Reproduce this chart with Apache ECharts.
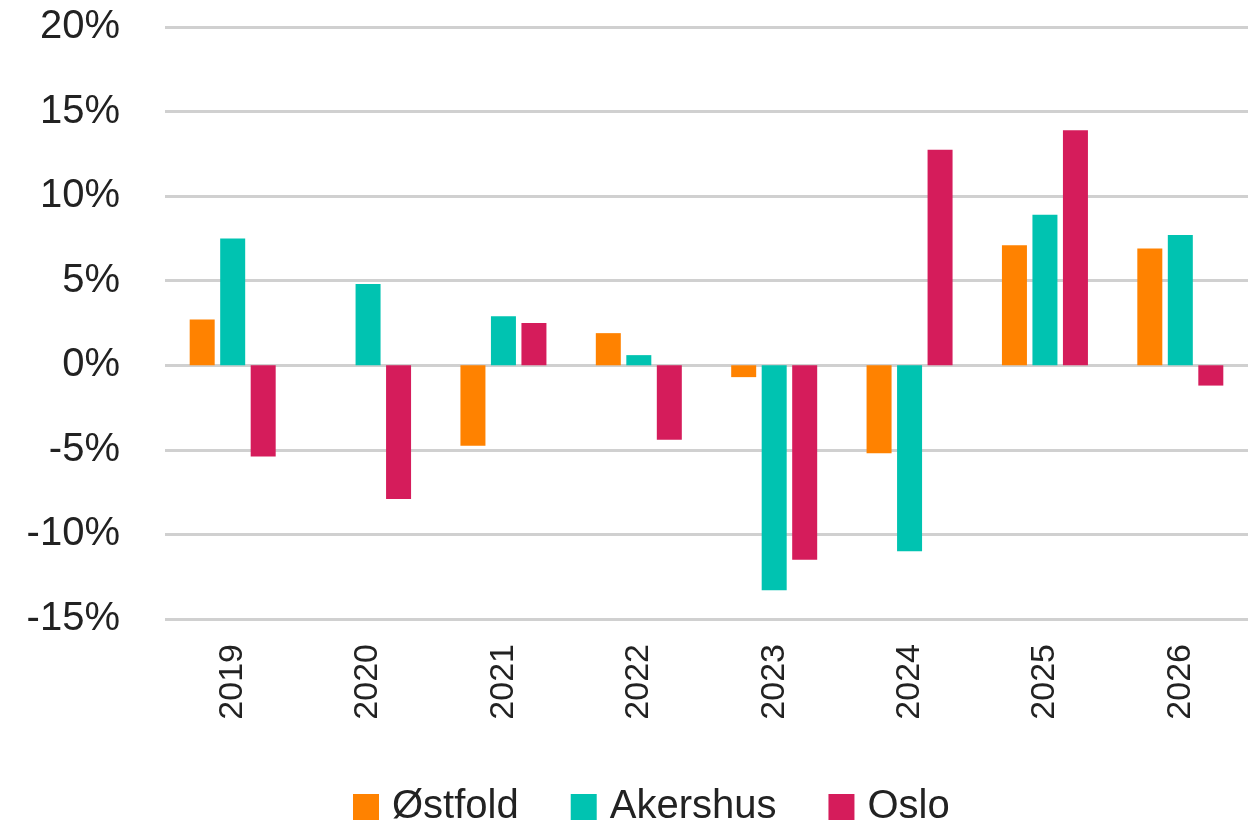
<!DOCTYPE html>
<html>
<head>
<meta charset="utf-8">
<script src="https://cdn.jsdelivr.net/npm/echarts@6/dist/echarts.min.js"></script>
<style>
    html, body { margin: 0; padding: 0; background: #fff; }
    #chart { width: 1258px; height: 826px; }
</style>
</head>
<body>
<div id="chart"></div>
<script>
// årlig endring, prosent
var years = ['2019', '2020', '2021', '2022', '2023', '2024', '2025', '2026'];
var ostfold = [2.7, null, -4.75, 1.9, -0.7, -5.2, 7.1, 6.9];
var akershus = [7.5, 4.8, 2.9, 0.6, -13.3, -11.0, 8.9, 7.7];
var oslo = [-5.4, -7.9, 2.5, -4.4, -11.5, 12.75, 13.9, -1.2];
var seriesNames = ['Østfold', 'Akershus', 'Oslo'];
var colors = ['#ff8200', '#00c3b1', '#d51c5b'];

var font = 'Liberation Sans, Arial, sans-serif';

var myChart = echarts.init(document.getElementById('chart'));

var bar = function(name, data) {
    return {
        name: name,
        type: 'bar',
        data: data,
        barWidth: 25,
        barGap: '22%'
    };
};

var option = {
    backgroundColor: '#fff',
    animation: false,
    color: colors,
    grid: {
        left: 165,
        right: 10,
        top: 27,
        bottom: 207
    },
    legend: {
        data: seriesNames,
        left: 348,
        top: 782,
        itemWidth: 26,
        itemHeight: 26,
        itemGap: 52,
        icon: 'rect',
        textStyle: {
            fontFamily: font,
            fontSize: 40,
            color: '#222',
            padding: [0, 0, 0, 8]
        }
    },
    xAxis: {
        type: 'category',
        data: years,
        axisLine: { show: false, onZero: false },
        axisTick: { show: false },
        axisLabel: {
            rotate: 90,
            margin: 25,
            fontFamily: font,
            fontSize: 34,
            color: '#222'
        }
    },
    yAxis: {
        type: 'value',
        min: -15,
        max: 20,
        interval: 5,
        axisLine: { show: false },
        axisTick: { show: false },
        axisLabel: {
            margin: 45,
            formatter: '{value}%',
            fontFamily: font,
            fontSize: 40,
            color: '#222'
        },
        splitLine: {
            lineStyle: { color: '#d0d0d0', width: 3 }
        }
    },
    series: [
        bar(seriesNames[0], ostfold),
        bar(seriesNames[1], akershus),
        bar(seriesNames[2], oslo)
    ]
};

myChart.setOption(option);
</script>
</body>
</html>
